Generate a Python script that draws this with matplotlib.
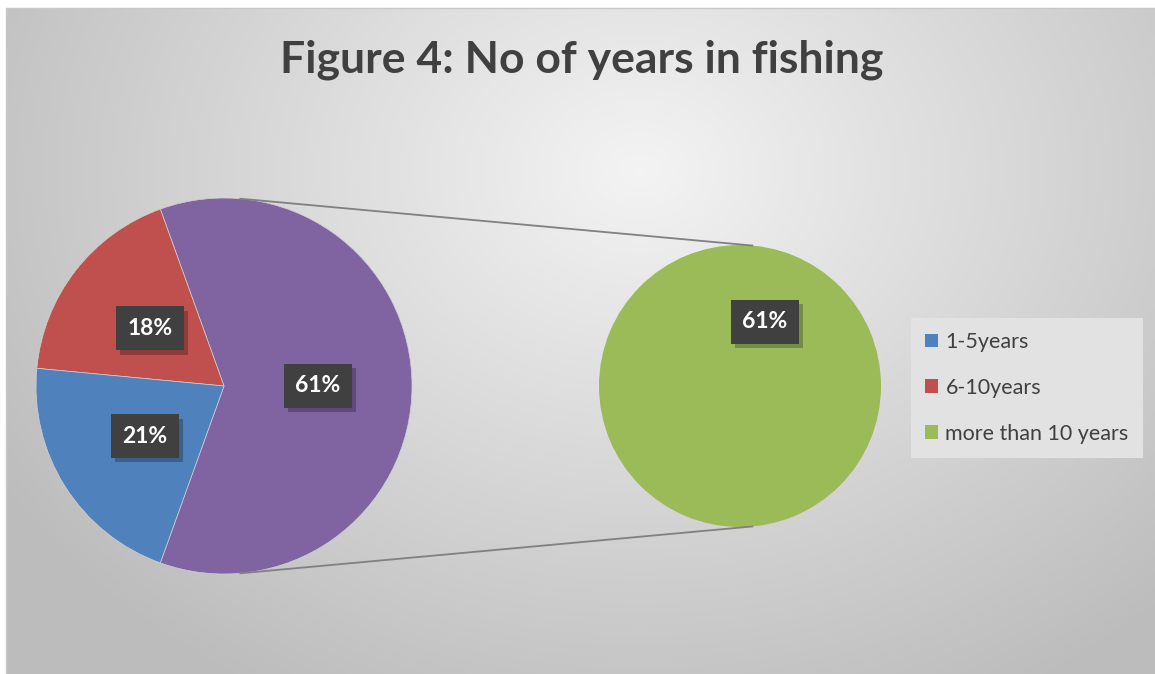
import numpy as np
import matplotlib.pyplot as plt
import matplotlib.patheffects as pe
from matplotlib.patches import Patch

# data
categories = ["1-5years", "6-10years", "more than 10 years"]
shares = [21, 18, 61]
colors = ["#4F81BD", "#C0504D", "#9BBB59"]
other_color = "#8064A2"

W, H = 1155, 674
fig = plt.figure(figsize=(W / 100, H / 100), dpi=100)
ax = fig.add_axes([0, 0, 1, 1])
ax.set_xlim(0, W)
ax.set_ylim(0, H)
ax.set_aspect("equal")
ax.axis("off")

# radial gradient background (chart area)
x0, x1, y0, y1 = 6, W, 0, H - 8
xx, yy = np.meshgrid(np.linspace(x0, x1, 300), np.linspace(y0, y1, 200))
d = np.sqrt(((xx - 640) / 700) ** 2 + ((yy - (H - 170)) / 560) ** 2)
g = np.clip(0.955 - 0.2 * d, 0.74, 0.96)
ax.imshow(np.dstack([g, g, g]), extent=[x0, x1, y0, y1], origin="lower",
          aspect="auto", zorder=0, interpolation="bicubic")
ax.plot([x0, x0, x1], [y0, y1, y1], color="#c8c8c8", lw=1, zorder=1)

font = "Lato"

# left pie: two small categories + "other"
c1, r1 = (224, H - 386), 188
other = shares[2]
angle_span = other / 100 * 360
start = -angle_span / 2
left_vals = [other, shares[1], shares[0]]
left_cols = [other_color, colors[1], colors[0]]
wedges, _ = ax.pie(left_vals, colors=left_cols, center=c1, radius=r1,
                   startangle=start, counterclock=True,
                   wedgeprops=dict(edgecolor="#d0d0d0", linewidth=0.5))

# right pie: breakdown of "other"
c2, r2 = (740, H - 386), 141
ax.pie([other], colors=[colors[2]], center=c2, radius=r2,
       startangle=68.7 - 180, wedgeprops=dict(linewidth=0))
ax.set_xlim(0, W)
ax.set_ylim(0, H)

# connector lines
a = np.deg2rad(85)
for s in (1, -1):
    ax.plot([c1[0] + r1 * np.cos(a), c2[0] + r2 * np.cos(a)],
            [c1[1] + s * r1 * np.sin(a), c2[1] + s * r2 * np.sin(a)],
            color="#808080", lw=1.3, zorder=3)


def box_label(x, y, txt):
    t = ax.text(x, y, txt, ha="center", va="center", color="white",
                fontsize=16.5, fontweight="bold", family=font, zorder=5,
                bbox=dict(boxstyle="square,pad=0.5", fc="#404040", ec="none"))
    t.get_bbox_patch().set_path_effects(
        [pe.SimplePatchShadow(offset=(3, -3), shadow_rgbFace="#000000", alpha=0.25),
         pe.Normal()])


# labels at half radius of each wedge
for w, v in zip(wedges, left_vals):
    mid = np.deg2rad((w.theta1 + w.theta2) / 2)
    box_label(c1[0] + 0.5 * r1 * np.cos(mid), c1[1] + 0.5 * r1 * np.sin(mid), f"{v}%")
mid = np.deg2rad(68.7)
box_label(c2[0] + 0.49 * r2 * np.cos(mid), c2[1] + 0.49 * r2 * np.sin(mid), f"{other}%")

ax.text(582, H - 60, "Figure 4: No of years in fishing", ha="center", va="center",
        fontsize=32, fontweight="bold", color="#404040", family=font, zorder=5)

handles = [Patch(facecolor=c, edgecolor="none") for c in colors]
leg = fig.legend(handles, categories, loc="upper left",
                 bbox_to_anchor=(911 / W, 1 - 318 / H), frameon=True,
                 fancybox=False, facecolor="#e2e2e2", edgecolor="none",
                 framealpha=1, handlelength=0.6, handleheight=0.6,
                 handletextpad=0.35, labelspacing=1.2, borderpad=0.65,
                 borderaxespad=0, prop=dict(family=font, size=15.5))
for t in leg.get_texts():
    t.set_color("#404040")

fig.savefig("out.png", dpi=100)
